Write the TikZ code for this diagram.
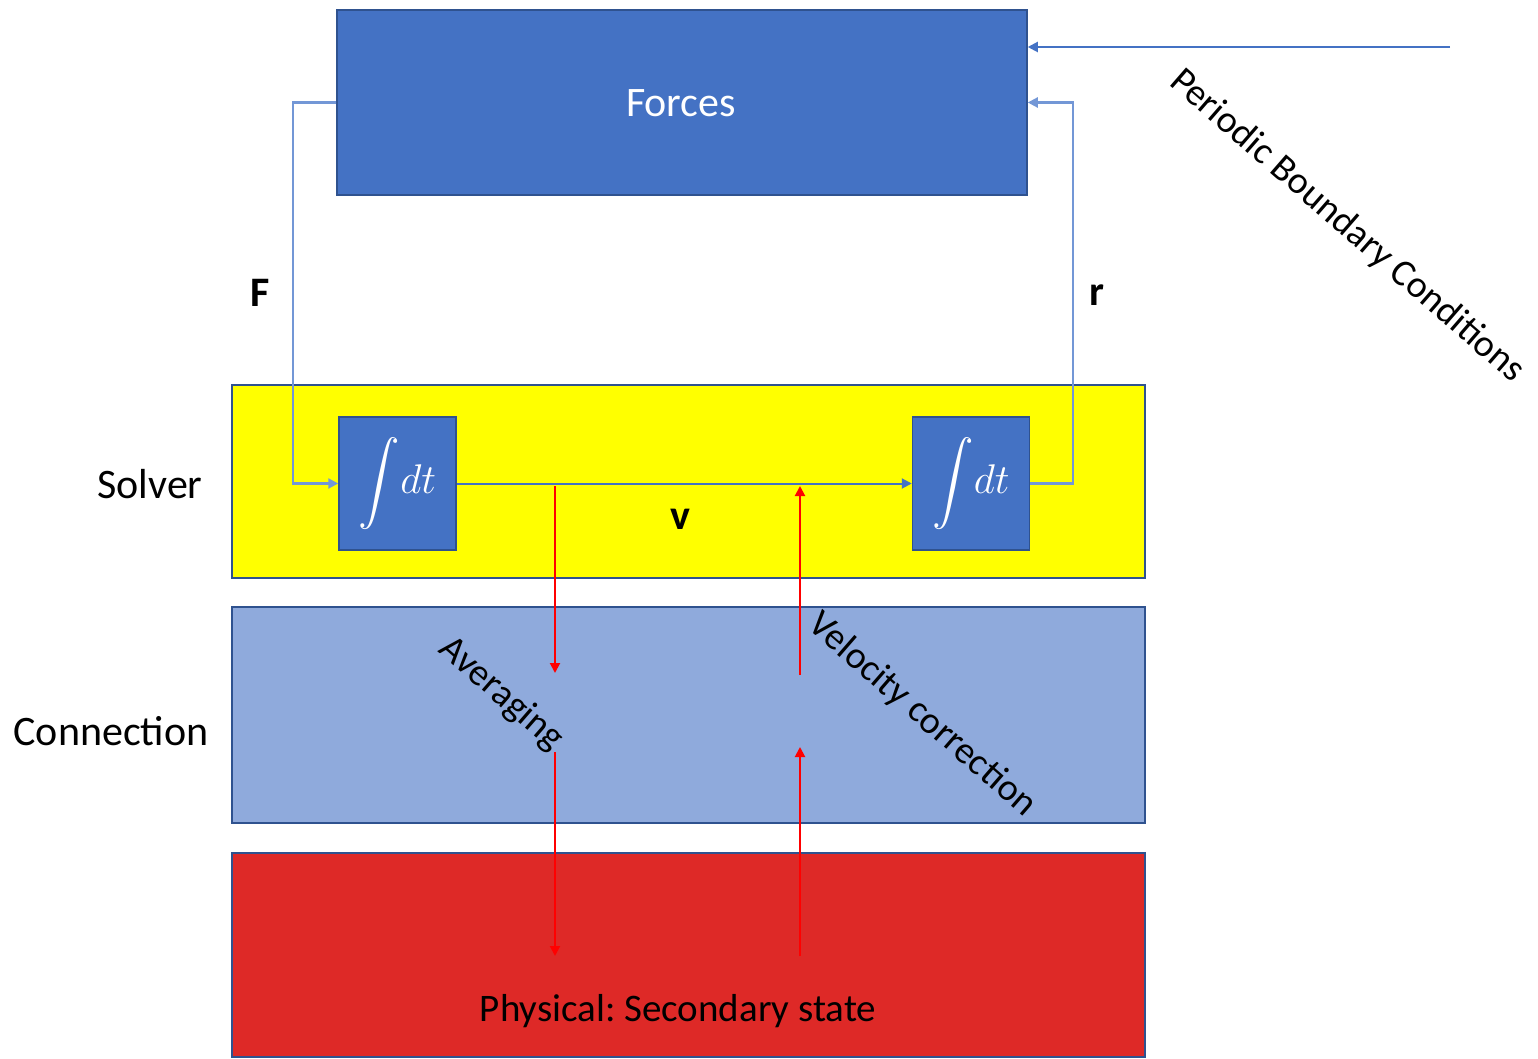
\documentclass[tikz,border=0pt]{standalone}
\usepackage{amsmath}
\usepackage{fontspec}
\setmainfont{Carlito}
\frenchspacing
\usetikzlibrary{arrows.meta}
\definecolor{boxblue}{HTML}{4472C4}
\definecolor{edgeblue}{HTML}{2F528F}
\definecolor{lightblue}{HTML}{8FAADC}
\definecolor{wireblue}{HTML}{7397D6}
\definecolor{physred}{HTML}{DE2927}
\definecolor{solveryellow}{HTML}{FFFF00}
\tikzset{
  panel/.style={draw=edgeblue, line width=0.75pt, inner sep=0pt, rectangle},
  intbox/.style={panel, fill=boxblue, text=white, minimum width=58.5pt, minimum height=66.5pt},
  wire/.style={draw=wireblue, line width=1.1pt, -{Triangle[length=5pt,width=5pt]}},
  vwire/.style={draw=boxblue, line width=1pt, -{Triangle[length=5pt,width=5pt]}},
  redwire/.style={draw=red, line width=1pt, -{Triangle[length=5pt,width=5pt]}},
  lbl/.style={font=\fontsize{21}{25}\selectfont, inner sep=0pt},
  bold/.style={font=\fontsize{21}{25}\selectfont\bfseries, inner sep=0pt},
  slant/.style={font=\fontsize{19}{23}\selectfont, inner sep=0pt, rotate=-41},
}
\newcommand{\intdt}{\fontsize{22}{26}\selectfont$\displaystyle\int\! dt$}
\begin{document}
\begin{tikzpicture}[x=0.5pt, y=-0.5pt]
\useasboundingbox (0,0) rectangle (1538,1059);

% layered panels
\node[panel, fill=boxblue, minimum width=345pt, minimum height=92.5pt] (forces) at (682,102.5) {};
\node[panel, fill=solveryellow, minimum width=456.5pt, minimum height=96.5pt] (solver) at (688.5,481.5) {};
\node[panel, fill=lightblue, minimum width=456.5pt, minimum height=108pt] (conn) at (688.5,715) {};
\node[panel, fill=physred, minimum width=456.5pt, minimum height=102pt] (phys) at (688.5,955) {};

\node[lbl, text=white] (forcestxt) at (681,103) {Forces};
\node[lbl, font=\fontsize{19.5}{23}\selectfont] (physlbl) at (678,1011) {Physical: Secondary state};
\node[lbl] (solverlbl) at (150,484) {Solver};
\node[lbl] (connlbl) at (111,731) {Connection};

% integrators
\node[intbox] (int1) at (397.5,483.5) {\intdt};
\node[intbox] (int2) at (971,483.5) {\intdt};

% force and position feedback loops
\draw[wire] (forces.west) -- ++(-43,0) |- (int1.west);
\draw[wire] (int2.east) -- ++(43,0) |- (forces.east);
\draw[vwire] (int1.east) -- (int2.west);

% periodic boundary input
\coordinate (pbc) at (1450,47);
\draw[vwire] (pbc) -- (forces.east |- pbc);

\node[bold] (flbl) at (260,293) {F};
\node[bold] (rlbl) at (1097,295) {r};
\node[bold] (vlbl) at (680,519) {v};

\node[slant] (pbclbl) at (1347,226) {Periodic Boundary Conditions};
\node[slant] (avglbl) at (501,694) {Averaging};
\node[slant] (vellbl) at (922,715) {Velocity correction};

% averaging path (down)
\coordinate (a0) at (555,486);
\coordinate (a1) at (555,673);
\coordinate (a2) at (555,752);
\coordinate (a3) at (555,956);
\draw[redwire] (a0) -- (a1);
\draw[redwire] (a2) -- (a3);

% velocity correction path (up)
\coordinate (c0) at (800,956);
\coordinate (c1) at (800,747);
\coordinate (c2) at (800,675);
\coordinate (c3) at (800,486);
\draw[redwire] (c0) -- (c1);
\draw[redwire] (c2) -- (c3);
\end{tikzpicture}
\end{document}
